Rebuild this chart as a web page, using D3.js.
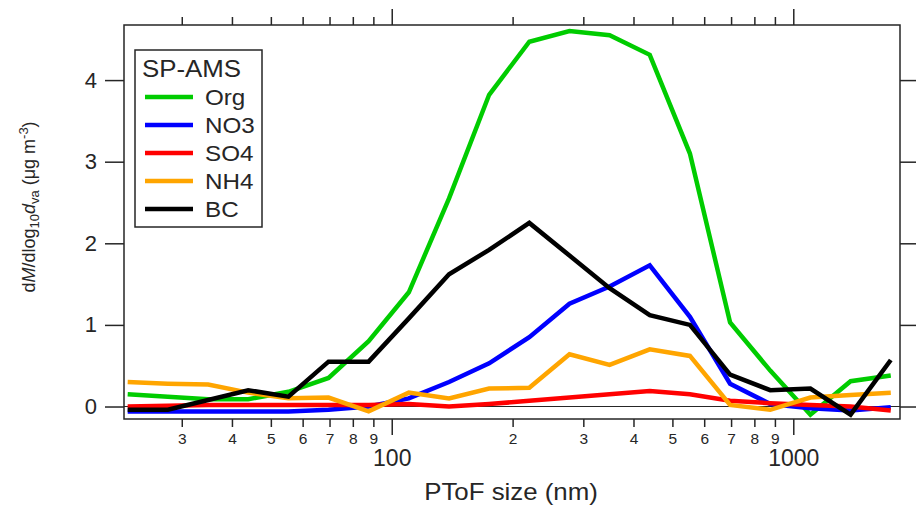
<!DOCTYPE html>
<html>
<head>
<meta charset="utf-8">
<script src="https://cdn.jsdelivr.net/npm/d3@7"></script>
<style>
  body { margin: 0; background: #fff; }
  svg { display: block; font-family: "Liberation Sans", Arial, sans-serif; }
</style>
</head>
<body>
<svg id="chart" width="916" height="505"></svg>
<script>
// PToF size bins (nm)
const sizes = [22.0, 27.7, 34.9, 43.9, 55.3, 69.6, 87.6, 110.3, 138.9, 174.8,
  220.1, 277.1, 348.8, 439.1, 552.8, 696.0, 876.2, 1103, 1389, 1749];

// dM/dlog10 dva (ug m-3)
const org = [0.15, 0.12, 0.09, 0.09, 0.18, 0.35, 0.80, 1.40, 2.55, 3.82,
  4.47, 4.60, 4.55, 4.31, 3.10, 1.03, 0.44, -0.10, 0.31, 0.38];
const no3 = [-0.06, -0.06, -0.06, -0.06, -0.06, -0.04, 0.00, 0.10, 0.30, 0.53,
  0.85, 1.26, 1.47, 1.73, 1.10, 0.28, 0.03, -0.02, -0.05, -0.01];
const so4 = [0.00, 0.01, 0.02, 0.02, 0.02, 0.02, 0.02, 0.03, 0.00, 0.03,
  0.07, 0.11, 0.15, 0.19, 0.15, 0.07, 0.04, 0.02, 0.00, -0.05];
const nh4 = [0.30, 0.28, 0.27, 0.17, 0.10, 0.11, -0.06, 0.17, 0.10, 0.22,
  0.23, 0.64, 0.51, 0.70, 0.62, 0.02, -0.04, 0.11, 0.14, 0.17];
const bc = [-0.04, -0.04, 0.08, 0.20, 0.12, 0.55, 0.55, 1.08, 1.62, 1.92,
  2.25, 1.85, 1.45, 1.12, 1.00, 0.39, 0.20, 0.22, -0.10, 0.57];

const seriesNames = ["Org", "NO3", "SO4", "NH4", "BC"];
const seriesValues = [org, no3, so4, nh4, bc];
const seriesColors = ["#00cc00", "#0000ff", "#ff0000", "#ffa500", "#000000"];

const yTicks = [0, 1, 2, 3, 4];
const majorTicks = [100, 1000];
const minorTicks = [30, 40, 50, 60, 70, 80, 90, 200, 300, 400, 500, 600, 700, 800, 900];

const ink = "#262626";
const svg = d3.select("#chart");
const plot = { left: 124, right: 900, top: 25, bottom: 419 };

const x = d3.scaleLog().domain([21.54, 1844]).range([plot.left, plot.right]);
const y = d3.scaleLinear().domain([-0.153, 4.675]).range([plot.bottom, plot.top]);

function styleAxis(g) {
  g.select(".domain").remove();
  g.selectAll(".tick line").attr("stroke", ink).attr("stroke-width", 1.5);
  g.selectAll(".tick text").attr("fill", ink);
}

// bottom axis: minor digits + major decades
svg.append("g")
  .attr("transform", `translate(0,${plot.bottom})`)
  .call(d3.axisBottom(x).tickValues(minorTicks).tickSize(8).tickPadding(6)
    .tickFormat(d => String(Math.round(d / Math.pow(10, Math.floor(Math.log10(d)))))))
  .call(styleAxis)
  .selectAll("text").attr("font-size", 15.5);

svg.append("g")
  .attr("transform", `translate(0,${plot.bottom})`)
  .call(d3.axisBottom(x).tickValues(majorTicks).tickSize(16).tickPadding(15)
    .tickFormat(d3.format("d")))
  .call(styleAxis)
  .selectAll("text").attr("font-size", 23);

// top axis mirrors ticks, no labels
svg.append("g")
  .attr("transform", `translate(0,${plot.top})`)
  .call(d3.axisTop(x).tickValues(minorTicks).tickSize(8).tickFormat(""))
  .call(styleAxis);
svg.append("g")
  .attr("transform", `translate(0,${plot.top})`)
  .call(d3.axisTop(x).tickValues(majorTicks).tickSize(16).tickFormat(""))
  .call(styleAxis);

// left and right y axes
svg.append("g")
  .attr("transform", `translate(${plot.left},0)`)
  .call(d3.axisLeft(y).tickValues(yTicks).tickSize(19).tickPadding(8).tickFormat(d3.format("d")))
  .call(styleAxis)
  .selectAll("text").attr("font-size", 22);
svg.append("g")
  .attr("transform", `translate(${plot.right},0)`)
  .call(d3.axisRight(y).tickValues(yTicks).tickSize(18).tickFormat(""))
  .call(styleAxis);

// frame and zero line
svg.append("rect")
  .attr("x", plot.left).attr("y", plot.top)
  .attr("width", plot.right - plot.left).attr("height", plot.bottom - plot.top)
  .attr("fill", "none").attr("stroke", ink).attr("stroke-width", 1.5);
svg.append("line")
  .attr("x1", plot.left).attr("x2", plot.right)
  .attr("y1", y(0)).attr("y2", y(0))
  .attr("stroke", ink).attr("stroke-width", 1);

// series
const line = d3.line().x((d, i) => x(sizes[i])).y(d => y(d));
seriesValues.forEach((values, k) => {
  svg.append("path")
    .datum(values)
    .attr("fill", "none")
    .attr("stroke", seriesColors[k])
    .attr("stroke-width", 4.5)
    .attr("stroke-linejoin", "miter")
    .attr("d", line);
});

// text helper: slightly wide glyphs like the original
function wideText(parent, tx, ty, str, size, anchor) {
  return parent.append("text")
    .attr("transform", `translate(${tx},${ty}) scale(1.1,1)`)
    .attr("font-size", size)
    .attr("fill", ink)
    .attr("text-anchor", anchor || "start")
    .text(str);
}

// legend
const legend = svg.append("g");
legend.append("rect")
  .attr("x", 135).attr("y", 50).attr("width", 127).attr("height", 177)
  .attr("fill", "#fff").attr("stroke", ink).attr("stroke-width", 1.5);
wideText(legend, 142, 77, "SP-AMS", 23.5);
seriesNames.forEach((name, k) => {
  const ly = 97 + k * 28;
  legend.append("line")
    .attr("x1", 145).attr("x2", 193).attr("y1", ly).attr("y2", ly)
    .attr("stroke", seriesColors[k]).attr("stroke-width", 4.5);
  wideText(legend, 205, ly + 8, name, 22);
});

// axis titles
wideText(svg, 511, 500, "PToF size (nm)", 23.5, "middle");

const ylab = svg.append("text")
  .attr("transform", "translate(35,207) rotate(-90)")
  .attr("text-anchor", "middle")
  .attr("font-size", 18)
  .attr("fill", ink);
ylab.append("tspan").text("d");
ylab.append("tspan").attr("font-style", "italic").text("M");
ylab.append("tspan").text("/dlog");
ylab.append("tspan").attr("font-size", 13).attr("dy", 4).text("10");
ylab.append("tspan").attr("font-style", "italic").attr("dy", -4).text("d");
ylab.append("tspan").attr("font-size", 13).attr("dy", 4).text("va");
ylab.append("tspan").attr("dy", -4).text(" (μg m");
ylab.append("tspan").attr("font-size", 13).attr("dy", -7).text("-3");
ylab.append("tspan").attr("dy", 7).text(")");
</script>
</body>
</html>
